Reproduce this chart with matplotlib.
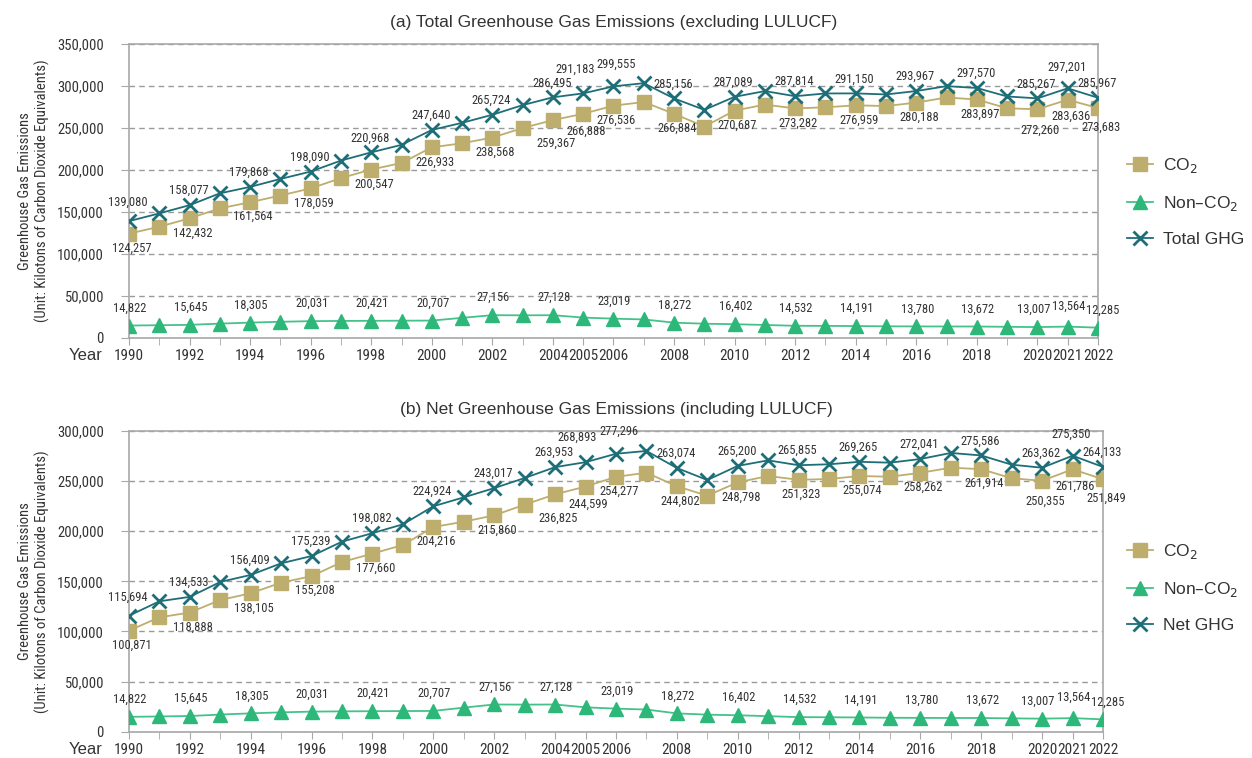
import numpy as np
import matplotlib.pyplot as plt

years = list(range(1990, 2023))

# (a) excluding LULUCF
total_ghg = [139080, 148300, 158077, 172200, 179868, 189300, 198090, 211200, 220968, 229900,
             247640, 256100, 265724, 277200, 286495, 291183, 299555, 303300, 285156, 271600,
             287089, 293900, 287814, 291100, 291150, 289900, 293967, 299800, 297570, 287500,
             285267, 297201, 285967]
co2_a = [124257, 132400, 142432, 154300, 161564, 169600, 178059, 190300, 200547, 208300,
         226933, 231800, 238568, 249900, 259367, 266888, 276536, 280900, 266884, 251700,
         270687, 277800, 273282, 274600, 276959, 276100, 280188, 286300, 283897, 273400,
         272260, 283636, 273683]
non_co2 = [14822, 15200, 15645, 17100, 18305, 19300, 20031, 20300, 20421, 20600,
           20707, 24000, 27156, 27000, 27128, 24300, 23019, 22100, 18272, 17000,
           16402, 15500, 14532, 14400, 14191, 13900, 13780, 13700, 13672, 13300,
           13007, 13564, 12285]

# (b) including LULUCF
net_ghg = [115694, 130100, 134533, 149400, 156409, 168000, 175239, 189600, 198082, 206900,
           224924, 233800, 243017, 253100, 263953, 268893, 277296, 280100, 263074, 251100,
           265200, 270700, 265855, 266800, 269265, 268400, 272041, 278100, 275586, 266400,
           263362, 275350, 264133]
co2_b = [100871, 114100, 118888, 131400, 138105, 148700, 155208, 169300, 177660, 186300,
         204216, 209500, 215860, 226500, 236825, 244599, 254277, 258400, 244802, 235500,
         248798, 255100, 251323, 252100, 255074, 254400, 258262, 263400, 261914, 252800,
         250355, 261786, 251849]

label_years = [1990, 1992, 1994, 1996, 1998, 2000, 2002, 2004, 2005, 2006,
               2008, 2010, 2012, 2014, 2016, 2018, 2020, 2021, 2022]
nonco2_label_years = [1990, 1992, 1994, 1996, 1998, 2000, 2002, 2004, 2006,
                      2008, 2010, 2012, 2014, 2016, 2018, 2020, 2021, 2022]

c_co2 = '#BDAE6E'
c_non = '#2DB87A'
c_non_line = '#45C28A'
c_tot = '#1E6E78'
grey = '#A8A8A8'
txt = '#333333'

narrow = ['Roboto Condensed', 'Archivo Narrow', 'DejaVu Sans']
regular = ['Liberation Sans', 'DejaVu Sans']

# pixel offsets for the data labels (above for GHG/non-CO2, below for CO2)
up_extra = {1990: 4, 2005: 10, 2006: 8, 2021: 7}
down_extra = {2004: 9, 2005: 3, 2020: 6, 2021: 2, 2022: 5}
dx_top = {2005: -8, 2006: 3}
dx_non = {2020: -4, 2022: 5}
up_non = {2021: 3}


def draw_panel(ax, top_vals, co2_vals, top_name, ymax, title, leg_y):
    ax.plot(years, co2_vals, color=c_co2, lw=1.3, marker='s', ms=9.5,
            mec=c_co2, mfc=c_co2, label='CO$_2$', zorder=3)
    ax.plot(years, non_co2, color=c_non_line, lw=1.3, marker='^', ms=10,
            mec=c_non, mfc=c_non, label='Non\u2013CO$_2$', zorder=3)
    ax.plot(years, top_vals, color=c_tot, lw=1.3, marker='x', ms=10, mew=2.0,
            label=top_name, zorder=4)

    for y in label_years:
        i = years.index(y)
        ax.annotate(f'{top_vals[i]:,}', (y, top_vals[i]),
                    xytext=(dx_top.get(y, -1), 8 + up_extra.get(y, 0)),
                    textcoords='offset pixels', ha='center', va='bottom',
                    fontsize=9, family=narrow, color=txt, zorder=5)
        ax.annotate(f'{co2_vals[i]:,}', (y, co2_vals[i]), xytext=(3, -8 - down_extra.get(y, 0)),
                    textcoords='offset pixels', ha='center', va='top',
                    fontsize=9, family=narrow, color=txt, zorder=5)
    for y in nonco2_label_years:
        i = years.index(y)
        ax.annotate(f'{non_co2[i]:,}', (y, non_co2[i]),
                    xytext=(dx_non.get(y, 1), 11 + up_non.get(y, 0)),
                    textcoords='offset pixels', ha='center', va='bottom',
                    fontsize=9, family=narrow, color=txt, zorder=5)

    ax.set_xlim(1990, 2022)
    ax.set_ylim(0, ymax)
    ticks = np.arange(0, ymax + 1, 50000)
    ax.set_yticks(ticks)
    ax.set_yticklabels(['0' if v == 0 else f'{v:,}' for v in ticks],
                       family=narrow, fontsize=10.5, color=txt)
    ax.set_xticks(years, minor=True)
    ax.set_xticks(label_years)
    ax.set_xticklabels([str(y) for y in label_years], family=narrow, fontsize=11, color=txt)
    ax.tick_params(axis='x', which='both', length=5, color=grey, pad=3)
    ax.tick_params(axis='y', length=6, color=grey, pad=12)
    ax.grid(axis='y', ls=(0, (4, 3)), color='#9A9A9A', lw=1.0)
    for s in ax.spines.values():
        s.set_color(grey)
        s.set_linewidth(1.2)
    ax.set_ylabel('Greenhouse Gas Emissions\n(Unit: Kilotons of Carbon Dioxide Equivalents)',
                  family=narrow, fontsize=10.5, color=txt, labelpad=5, linespacing=1.25)
    ax.set_title(title, family=regular, fontsize=12.5, color=txt, pad=12)
    ax.text(-0.027, -0.034, 'Year', transform=ax.transAxes, ha='right', va='top',
            family=regular, fontsize=12, color=txt)
    ax.legend(loc='center left', bbox_to_anchor=(1120 / 1252, leg_y),
              bbox_transform=fig.transFigure, borderaxespad=0, frameon=False,
              prop={'family': regular, 'size': 12.5}, handlelength=1.5,
              handletextpad=0.6, labelspacing=1.1, labelcolor=txt)


fig = plt.figure(figsize=(12.52, 7.58), dpi=100)
ax1 = fig.add_axes([0.1030, 0.5541, 0.7740, 0.3879])
ax2 = fig.add_axes([0.1030, 0.0347, 0.7780, 0.3967])

draw_panel(ax1, total_ghg, co2_a, 'Total GHG', 350000,
           '(a) Total Greenhouse Gas Emissions (excluding LULUCF)', 1 - 201.5 / 758)
draw_panel(ax2, net_ghg, co2_b, 'Net GHG', 300000,
           '(b) Net Greenhouse Gas Emissions (including LULUCF)', 1 - 587.5 / 758)

fig.savefig('out.png', dpi=100)
